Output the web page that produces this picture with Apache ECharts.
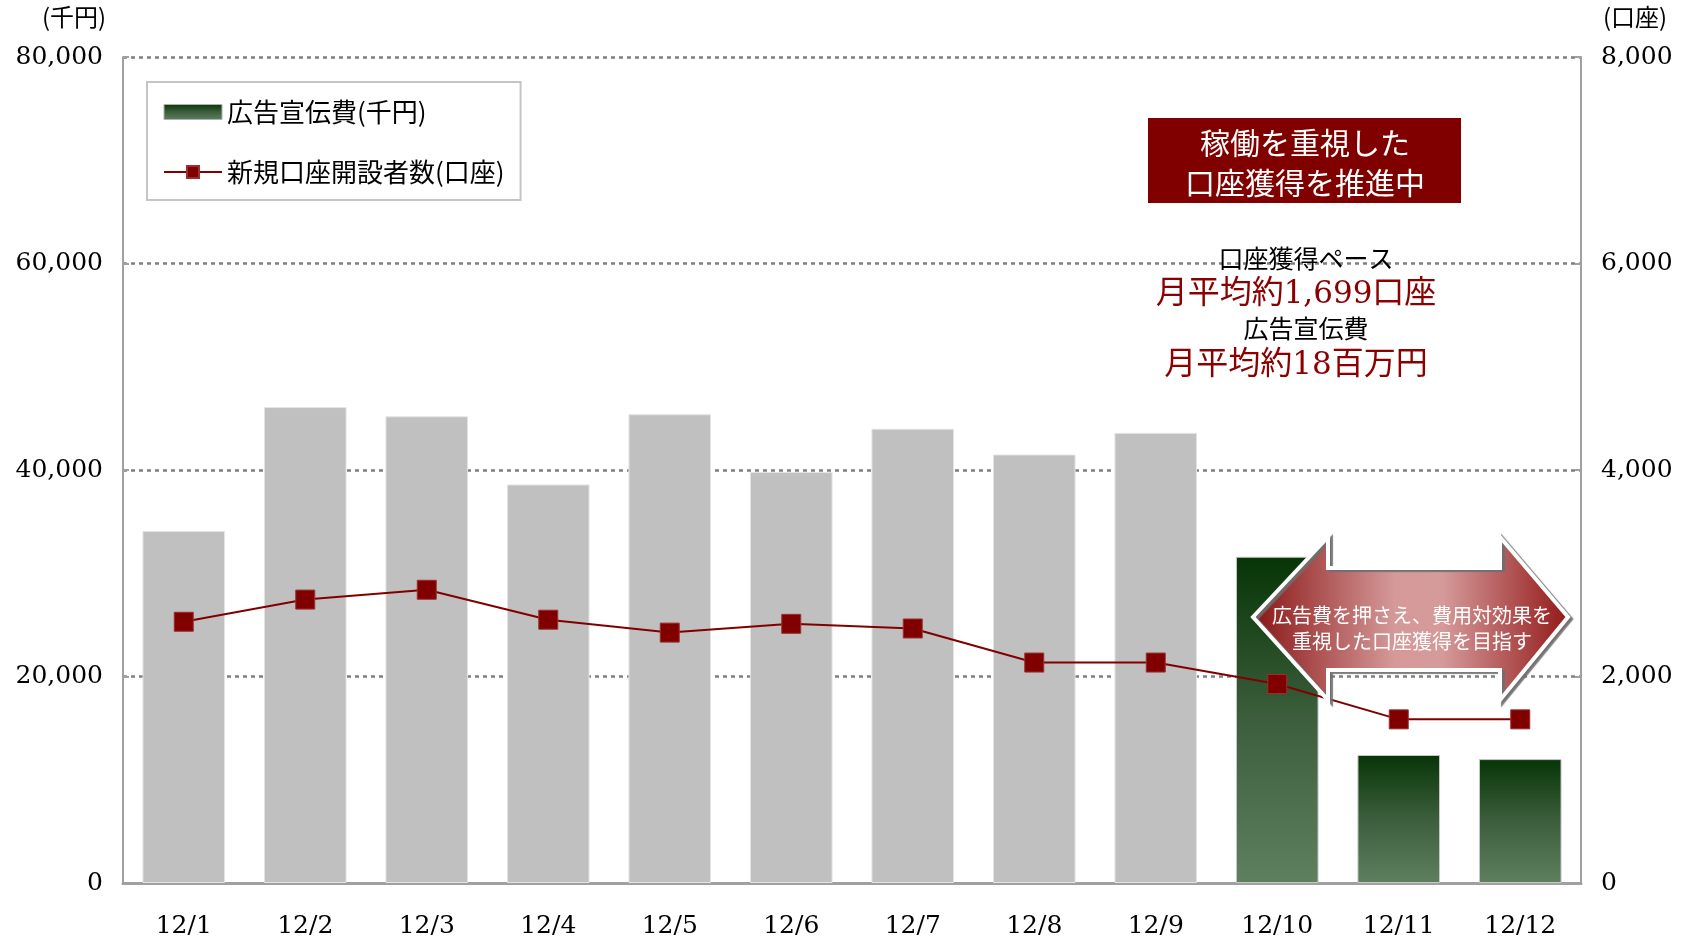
<!DOCTYPE html>
<html>
<head>
<meta charset="utf-8">
<script src="https://cdn.jsdelivr.net/npm/echarts@6/dist/echarts.min.js"></script>
<style>
html,body{margin:0;padding:0;background:#fff;}
#chart{width:1684px;height:939px;}
</style>
</head>
<body>
<div id="chart"></div>
<script>
var categories = ['12/1','12/2','12/3','12/4','12/5','12/6','12/7','12/8','12/9','12/10','12/11','12/12'];
var adCost = [34100, 46100, 45200, 38600, 45400, 39800, 44000, 41500, 43600, 31600, 12400, 12000];
var newAccounts = [2530, 2745, 2840, 2550, 2425, 2510, 2465, 2135, 2135, 1927, 1585, 1585];
var highlightFrom = 9;
var leftTicks = [0, 20000, 40000, 60000, 80000];
var rightTicks = [0, 2000, 4000, 6000, 8000];
var seriesNames = ['広告宣伝費(千円)', '新規口座開設者数(口座)'];

var JP = '"Noto Sans CJK JP", "Noto Sans", sans-serif';
var SERIF = '"DejaVu Serif", "Liberation Serif", serif';

var greenGrad = new echarts.graphic.LinearGradient(0, 0, 0, 1, [
  {offset: 0, color: '#073507'},
  {offset: 0.5, color: '#3c5e3c'},
  {offset: 1, color: '#5e805e'}
]);

var barData = adCost.map(function (v, i) {
  if (i < highlightFrom) {
    return {value: v, itemStyle: {color: '#c0c0c0', borderColor: '#e4e4e4', borderWidth: 1}};
  }
  return {value: v};
});

var chart = echarts.init(document.getElementById('chart'), null, {renderer: 'canvas'});

var arrowPts = [
  [1253, 617], [1328, 537], [1328, 568], [1500, 568], [1500, 537],
  [1568, 617], [1500, 700], [1500, 670], [1328, 670], [1328, 700]
];

var redRich = {
  j: {fontFamily: JP, fontSize: 32, fill: '#8b0000', color: '#8b0000', lineHeight: 40},
  n: {fontFamily: SERIF, fontSize: 31, fill: '#8b0000', color: '#8b0000', lineHeight: 40, padding: [8, 0, 0, 0]}
};

var option = {
  backgroundColor: '#ffffff',
  animation: false,
  grid: {left: 123, right: 103, top: 57, bottom: 54, containLabel: false},
  legend: {
    orient: 'vertical',
    left: 147, top: 82,
    padding: [17, 16, 15, 16],
    itemGap: 34,
    itemWidth: 58, itemHeight: 15,
    backgroundColor: '#ffffff',
    borderColor: '#c4c4c4', borderWidth: 2,
    textStyle: {fontFamily: JP, fontSize: 26, color: '#000'},
    data: [
      {name: seriesNames[0], icon: 'rect', itemStyle: {color: greenGrad, borderColor: '#b0b0b0', borderWidth: 1}},
      {name: seriesNames[1]}
    ]
  },
  xAxis: {
    type: 'category',
    data: categories,
    axisLine: {lineStyle: {color: '#a0a0a0', width: 3}},
    axisTick: {inside: true, length: 8, lineStyle: {color: '#a0a0a0', width: 1}},
    axisLabel: {fontFamily: SERIF, fontSize: 25, color: '#000', margin: 31}
  },
  yAxis: [
    {
      type: 'value', min: 0, max: 80000, interval: 20000,
      axisLine: {show: true, lineStyle: {color: '#a0a0a0', width: 2}},
      axisTick: {show: true, inside: true, length: 6, lineStyle: {color: '#a0a0a0', width: 2}},
      axisLabel: {
        fontFamily: SERIF, fontSize: 25, color: '#000', margin: 20,
        formatter: function (v) { return leftTicks.indexOf(v) >= 0 ? v.toLocaleString('en-US') : ''; }
      },
      splitLine: {show: true, lineStyle: {color: '#7f7f7f', width: 2.5, type: [4, 4]}}
    },
    {
      type: 'value', min: 0, max: 8000, interval: 2000,
      axisLine: {show: true, lineStyle: {color: '#a0a0a0', width: 2}},
      axisTick: {show: true, inside: true, length: 6, lineStyle: {color: '#a0a0a0', width: 2}},
      axisLabel: {
        fontFamily: SERIF, fontSize: 25, color: '#000', margin: 20,
        formatter: function (v) { return rightTicks.indexOf(v) >= 0 ? v.toLocaleString('en-US') : ''; }
      },
      splitLine: {show: false}
    }
  ],
  series: [
    {
      name: seriesNames[0],
      type: 'bar',
      data: barData,
      barCategoryGap: '32%',
      itemStyle: {color: greenGrad, borderColor: '#c8c8c8', borderWidth: 1},
      z: 2
    },
    {
      name: seriesNames[1],
      type: 'line',
      yAxisIndex: 1,
      data: newAccounts,
      symbol: 'rect',
      symbolSize: 19,
      lineStyle: {color: '#800000', width: 2},
      itemStyle: {color: '#800000', borderColor: '#9a3030', borderWidth: 1},
      z: 5
    }
  ],
  graphic: [
    {type: 'text', left: 42, top: 5, style: {text: '(千円)', font: '24px ' + JP, fill: '#000'}},
    {type: 'text', left: 1603, top: 5, style: {text: '(口座)', font: '24px ' + JP, fill: '#000'}},
    {type: 'rect', z: 50, shape: {x: 1148, y: 118, width: 313, height: 85}, style: {fill: '#800000'}},
    {type: 'text', z: 51, x: 1305, y: 143, style: {text: '稼働を重視した', font: '30px ' + JP, fill: '#fff', textAlign: 'center', textVerticalAlign: 'middle'}},
    {type: 'text', z: 51, x: 1305, y: 183, style: {text: '口座獲得を推進中', font: '30px ' + JP, fill: '#fff', textAlign: 'center', textVerticalAlign: 'middle'}},
    {type: 'text', z: 51, x: 1306, y: 258, style: {text: '口座獲得ペース', font: '25px ' + JP, fill: '#000', textAlign: 'center', textVerticalAlign: 'middle'}},
    {type: 'text', z: 51, x: 1296, y: 291, style: {text: '{j|月平均約}{n|1,699}{j|口座}', rich: redRich, textAlign: 'center', textVerticalAlign: 'middle'}},
    {type: 'text', z: 51, x: 1306, y: 328, style: {text: '広告宣伝費', font: '25px ' + JP, fill: '#000', textAlign: 'center', textVerticalAlign: 'middle'}},
    {type: 'text', z: 51, x: 1296, y: 362, style: {text: '{j|月平均約}{n|18}{j|百万円}', rich: redRich, textAlign: 'center', textVerticalAlign: 'middle'}},
    {
      type: 'polygon', z: 60,
      shape: {points: arrowPts},
      style: {
        fill: new echarts.graphic.LinearGradient(0, 0, 1, 0, [
          {offset: 0, color: '#8a1414'},
          {offset: 0.45, color: '#d59999'},
          {offset: 0.6, color: '#d59a9a'},
          {offset: 1, color: '#921818'}
        ]),
        stroke: '#ffffff', lineWidth: 4, lineJoin: 'miter',
        shadowColor: 'rgba(110,110,110,0.9)', shadowOffsetX: 3, shadowOffsetY: 2, shadowBlur: 1
      }
    },
    {type: 'text', z: 61, x: 1412, y: 615, style: {text: '広告費を押さえ、費用対効果を', font: '20px ' + JP, fill: '#fff', textAlign: 'center', textVerticalAlign: 'middle'}},
    {type: 'text', z: 61, x: 1412, y: 641, style: {text: '重視した口座獲得を目指す', font: '20px ' + JP, fill: '#fff', textAlign: 'center', textVerticalAlign: 'middle'}}
  ]
};
chart.setOption(option);
</script>
</body>
</html>
